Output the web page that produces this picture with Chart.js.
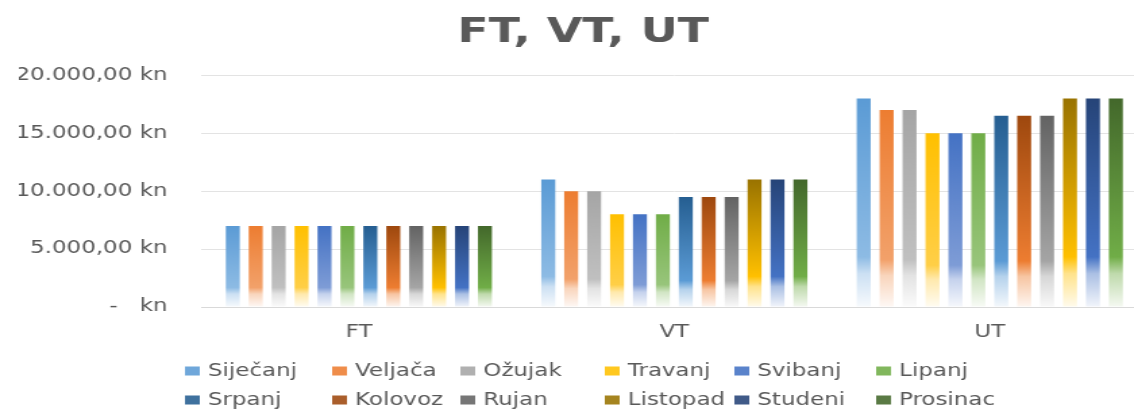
<!DOCTYPE html>
<html>
<head>
<meta charset="utf-8">
<script src="https://cdn.jsdelivr.net/npm/chart.js@4.4.0/dist/chart.umd.min.js"></script>
<style>
  html, body { margin: 0; padding: 0; overflow: hidden; background: #fff; width: 1134px; height: 414px; }
  /* the reference is stretched sideways, so the chart is too */
  #wrap { width: 864px; height: 414px; transform: scaleX(1.35); transform-origin: 0 0; }
</style>
</head>
<body>
<div id="wrap"><canvas id="troskoviChart"></canvas></div>
<script>
// ---- podaci ----
var categories = ['FT', 'VT', 'UT'];
var months = ['Siječanj', 'Veljača', 'Ožujak', 'Travanj', 'Svibanj', 'Lipanj',
              'Srpanj', 'Kolovoz', 'Rujan', 'Listopad', 'Studeni', 'Prosinac'];
var ftValues = [7000, 7000, 7000, 7000, 7000, 7000, 7000, 7000, 7000, 7000, 7000, 7000];
var vtValues = [11000, 10000, 10000, 8000, 8000, 8000, 9500, 9500, 9500, 11000, 11000, 11000];
var utValues = [18000, 17000, 17000, 15000, 15000, 15000, 16500, 16500, 16500, 18000, 18000, 18000];
var yTickLabels = ['-   kn', '5.000,00 kn', '10.000,00 kn', '15.000,00 kn', '20.000,00 kn'];

// ---- boje ----
var baseColors = ['#5B9BD5', '#ED7D31', '#A5A5A5', '#FFC000', '#4472C4', '#70AD47',
                  '#255E91', '#9E480E', '#636363', '#997300', '#264478', '#43682B'];
var midColors  = ['#8DBBE4', '#F2A16A', '#C0C0C0', '#FFCF47', '#7E9CD6', '#98C57B',
                  '#5B9BD5', '#ED7D31', '#A5A5A5', '#FFC000', '#4472C4', '#70AD47'];

function tint(hex, t) {
  var r = parseInt(hex.substr(1, 2), 16), g = parseInt(hex.substr(3, 2), 16), b = parseInt(hex.substr(5, 2), 16);
  r = Math.round(r + (255 - r) * t); g = Math.round(g + (255 - g) * t); b = Math.round(b + (255 - b) * t);
  return 'rgb(' + r + ',' + g + ',' + b + ')';
}

function barGradient(i) {
  return function (context) {
    var chart = context.chart;
    if (!chart.chartArea || context.raw === undefined) return baseColors[i];
    var yScale = chart.scales.y;
    var top = yScale.getPixelForValue(context.raw);
    var bottom = yScale.getPixelForValue(0);
    var g = chart.ctx.createLinearGradient(0, top, 0, bottom);
    g.addColorStop(0, baseColors[i]);
    g.addColorStop(0.76, midColors[i]);
    g.addColorStop(0.84, tint(midColors[i], 0.55));
    g.addColorStop(1, tint(midColors[i], 0.93));
    return g;
  };
}

var datasets = [];
months.forEach(function (m, i) {
  datasets.push({
    label: m,
    data: [ftValues[i], vtValues[i], utValues[i]],
    backgroundColor: barGradient(i),
    borderWidth: 0,
    categoryPercentage: 0.872,
    barPercentage: 0.61
  });
});

// legenda u stupcima, kao u Excelu
var legendColumns = [137, 246, 341, 448, 544, 649];
var legendRows = [371, 400];
var mjeseciLegenda = {
  id: 'mjeseciLegenda',
  afterDraw: function (chart) {
    var ctx = chart.ctx;
    ctx.save();
    ctx.font = '17px "DejaVu Sans"';
    ctx.textBaseline = 'middle';
    ctx.textAlign = 'left';
    chart.data.datasets.forEach(function (ds, i) {
      var x = legendColumns[i % 6];
      var y = legendRows[Math.floor(i / 6)];
      ctx.fillStyle = tint(baseColors[i], 0.12);
      ctx.fillRect(x, y - 4.5, 11, 9);
      ctx.fillStyle = '#595959';
      ctx.fillText(ds.label, x + 17, y + 1);
    });
    ctx.restore();
  }
};

var chart = new Chart(document.getElementById('troskoviChart'), {
  type: 'bar',
  data: { labels: categories, datasets: datasets },
  plugins: [mjeseciLegenda],
  options: {
    responsive: true,
    maintainAspectRatio: false,
    animation: false,
    layout: { padding: { left: 14, right: 14, top: 0, bottom: 67 } },
    plugins: {
      legend: { display: false },
      tooltip: { enabled: false },
      title: {
        display: true,
        text: 'FT, VT, UT',
        color: '#595959',
        font: { family: 'DejaVu Sans', size: 34, weight: 'bold' },
        padding: { top: 13, bottom: 21.5 }
      }
    },
    scales: {
      x: {
        grid: { display: false, drawTicks: false },
        border: { display: true, color: '#d9d9d9', width: 1 },
        ticks: { color: '#595959', font: { family: 'DejaVu Sans', size: 17 }, padding: 15 },
        afterFit: function (scale) { scale.height = 40; }
      },
      y: {
        min: 0,
        max: 20000,
        grid: { color: '#e3e3e3', drawTicks: false },
        border: { display: false },
        ticks: {
          stepSize: 5000,
          color: '#595959',
          font: { family: 'DejaVu Sans', size: 17 },
          padding: 25,
          callback: function (value) { return yTickLabels[value / 5000]; }
        },
        afterFit: function (scale) { scale.width = 135; }
      }
    }
  }
});
</script>
</body>
</html>
